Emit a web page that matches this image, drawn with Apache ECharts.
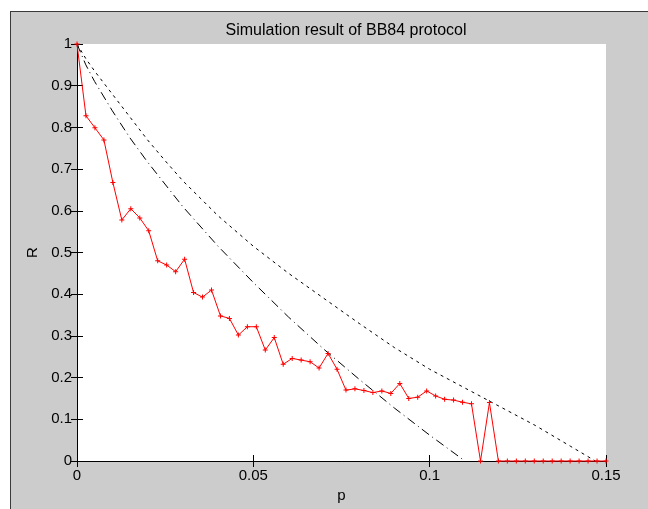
<!DOCTYPE html>
<html>
<head>
<meta charset="utf-8">
<title>Simulation result of BB84 protocol</title>
<script src="https://cdn.jsdelivr.net/npm/echarts@6/dist/echarts.min.js"></script>
<style>
  html, body { margin: 0; padding: 0; background: #fff; }
  #wrap { position: relative; width: 648px; height: 509px; overflow: hidden; }
  .frame {
    position: absolute; left: 10px; top: 11px; width: 700px; height: 600px;
    background: #cccccc; border-left: 1px solid #3a3a3a; border-top: 1px solid #3a3a3a;
  }
  #chart { position: absolute; left: 0; top: 0; width: 648px; height: 509px; }
</style>
</head>
<body>
<div id="wrap">
  <div class="frame"></div>
  <div id="chart"></div>
</div>
<script>
// p samples of the simulated curve (60 points over 0..0.15)
const simP = [0, 0.00254, 0.00508, 0.00763, 0.01017, 0.01271, 0.01525, 0.01780, 0.02034, 0.02288,
  0.02542, 0.02797, 0.03051, 0.03305, 0.03559, 0.03814, 0.04068, 0.04322, 0.04576, 0.04831,
  0.05085, 0.05339, 0.05593, 0.05847, 0.06102, 0.06356, 0.06610, 0.06864, 0.07119, 0.07373,
  0.07627, 0.07881, 0.08136, 0.08390, 0.08644, 0.08898, 0.09153, 0.09407, 0.09661, 0.09915,
  0.10169, 0.10424, 0.10678, 0.10932, 0.11186, 0.11441, 0.11695, 0.11949, 0.12203, 0.12458,
  0.12712, 0.12966, 0.13220, 0.13475, 0.13729, 0.13983, 0.14237, 0.14492, 0.14746, 0.15]
const simR = [1.0, 0.828, 0.799, 0.770, 0.668, 0.578, 0.605, 0.583, 0.552, 0.480,
  0.470, 0.454, 0.484, 0.404, 0.393, 0.410, 0.348, 0.342, 0.302, 0.322,
  0.322, 0.266, 0.296, 0.232, 0.246, 0.242, 0.238, 0.223, 0.258, 0.220,
  0.170, 0.173, 0.169, 0.164, 0.168, 0.162, 0.186, 0.150, 0.153, 0.168,
  0.156, 0.148, 0.146, 0.141, 0.137, 0, 0.140, 0, 0, 0,
  0, 0, 0, 0, 0, 0, 0, 0, 0, 0]

// dash-dot bound
const dashDotP = [0, 0.0025, 0.005, 0.01, 0.015, 0.02, 0.03, 0.04, 0.05, 0.06, 0.07, 0.08, 0.09, 0.1, 0.105, 0.11]
const dashDotR = [1, 0.95, 0.91, 0.84, 0.775, 0.717, 0.61, 0.515, 0.428, 0.345, 0.268, 0.196, 0.127, 0.062, 0.031, 0]

// dotted bound
const dottedP = [0, 0.0025, 0.005, 0.01, 0.015, 0.02, 0.025, 0.03, 0.04, 0.05, 0.06, 0.07, 0.08, 0.09, 0.1, 0.11, 0.12, 0.13, 0.14, 0.147]
const dottedR = [1, 0.965, 0.935, 0.88, 0.825, 0.77, 0.72, 0.672, 0.588, 0.515, 0.45, 0.39, 0.33, 0.272, 0.22, 0.175, 0.13, 0.085, 0.035, 0]

const xTicks = [0, 0.05, 0.1, 0.15]
const FONT = '"Liberation Sans", Arial, sans-serif'

const zip = (xs, ys) => xs.map((x, i) => [x, ys[i]])

const chart = echarts.init(document.getElementById('chart'), null, { renderer: 'canvas' })

const axisLine = { show: true, lineStyle: { color: '#000', width: 1 } }
const axisTick = { show: true, inside: true, length: 6, lineStyle: { color: '#000', width: 1 } }

chart.setOption({
  backgroundColor: 'transparent',
  animation: false,
  title: {
    text: 'Simulation result of BB84 protocol',
    left: 341,
    top: 18,
    textAlign: 'center',
    textStyle: { fontFamily: FONT, fontSize: 16, fontWeight: 'normal', color: '#000' }
  },
  grid: { left: 77, top: 44, right: 42, bottom: 48, show: true, backgroundColor: '#fff', borderWidth: 0 },
  xAxis: [{
    type: 'value',
    min: 0, max: 0.15, interval: 0.05,
    name: 'p', nameLocation: 'middle', nameGap: 26,
    nameTextStyle: { fontFamily: FONT, fontSize: 15, color: '#000' },
    axisLine, axisTick,
    splitLine: { show: false },
    axisLabel: {
      fontFamily: FONT, fontSize: 15, color: '#000', margin: 7,
      formatter: v => (xTicks.some(t => Math.abs(t - v) < 1e-9) ? String(+v.toFixed(2)) : '')
    }
  }, {
    type: 'value', position: 'top',
    min: 0, max: 0.15, interval: 0.05,
    axisLine, axisTick,
    splitLine: { show: false }, axisLabel: { show: false }
  }],
  yAxis: [{
    type: 'value',
    min: 0, max: 1, interval: 0.1,
    name: 'R', nameLocation: 'middle', nameGap: 37, nameRotate: 90,
    nameTextStyle: { fontFamily: FONT, fontSize: 15, color: '#000' },
    axisLine, axisTick,
    splitLine: { show: false },
    axisLabel: {
      fontFamily: FONT, fontSize: 15, color: '#000', margin: 5,
      formatter: v => String(+v.toFixed(1))
    }
  }, {
    type: 'value', position: 'right',
    min: 0, max: 1, interval: 0.1,
    axisLine, axisTick,
    splitLine: { show: false }, axisLabel: { show: false }
  }],
  series: [{
    type: 'line',
    data: zip(dottedP, dottedR),
    showSymbol: false, symbol: 'none', clip: false,
    lineStyle: { color: '#000', width: 1, type: [3, 4] },
    z: 3
  }, {
    type: 'line',
    data: zip(dashDotP, dashDotR),
    showSymbol: false, symbol: 'none', clip: false,
    lineStyle: { color: '#000', width: 1, type: [9, 4, 1, 4] },
    z: 3
  }, {
    type: 'line',
    data: zip(simP, simR),
    clip: false,
    symbol: 'path://M2,0H3V2H5V3H3V5H2V3H0V2H2Z',
    symbolSize: 5,
    itemStyle: { color: '#ff0000' },
    lineStyle: { color: '#ff0000', width: 1 },
    z: 4
  }]
})
</script>
</body>
</html>
